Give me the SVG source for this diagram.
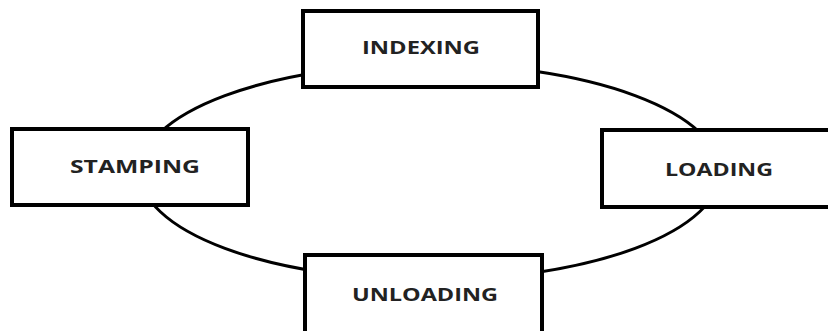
<svg xmlns="http://www.w3.org/2000/svg" width="828" height="331" viewBox="0 0 828 331">
<style>
.box{fill:#fff;stroke:#000;stroke-width:4}
.lbl{font-family:"Open Sans","DejaVu Sans",sans-serif;font-weight:bold;font-size:18px;fill:#222;text-anchor:middle}
.conn{fill:none;stroke:#000;stroke-width:3}
</style>
<rect width="828" height="331" fill="#fff"/>
<g id="connectors">
<ellipse class="conn" cx="430" cy="172" rx="290" ry="108"/>
</g>
<g id="indexing">
<rect class="box" x="303" y="11" width="235" height="76"/>
<text class="lbl" x="421" y="54" textLength="118" lengthAdjust="spacingAndGlyphs">INDEXING</text>
</g>
<g id="stamping">
<rect class="box" x="12" y="129" width="236" height="76"/>
<text class="lbl" x="135" y="173" textLength="130" lengthAdjust="spacingAndGlyphs">STAMPING</text>
</g>
<g id="loading">
<rect class="box" x="602" y="130" width="240" height="77"/>
<text class="lbl" x="719" y="176" textLength="108" lengthAdjust="spacingAndGlyphs">LOADING</text>
</g>
<g id="unloading">
<rect class="box" x="305" y="255" width="237" height="80"/>
<text class="lbl" x="425" y="301" textLength="146" lengthAdjust="spacingAndGlyphs">UNLOADING</text>
</g>
</svg>
